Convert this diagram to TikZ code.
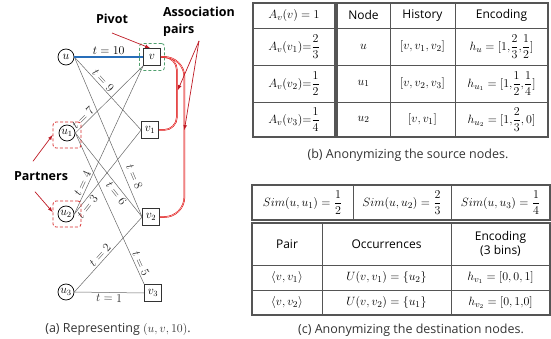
\documentclass[tikz,border=0pt,12pt]{standalone}
\usepackage{amsmath}
\usepackage{fontspec}
\setsansfont{Open Sans}
\usetikzlibrary{positioning}
\usetikzlibrary{calc}
\usetikzlibrary{arrows.meta}

\definecolor{pivotgreen}{RGB}{80,160,110}
\definecolor{partnerred}{RGB}{215,45,45}
\definecolor{arrowred}{RGB}{190,25,35}
\definecolor{edgeblue}{RGB}{40,110,185}
\definecolor{tablegray}{RGB}{85,85,85}

\begin{document}
\begin{tikzpicture}[x=1pt, y=-1pt, text centered,
        src/.style={draw, circle, minimum size=16pt, inner sep=0pt, line width=0.7pt},
        dst/.style={draw=black!80, minimum size=17pt, inner sep=0pt, line width=0.8pt},
        tedge/.style={black!60, line width=0.5pt},
        tlab/.style={sloped, inner sep=1.5pt, text=black!85},
        callout/.style={font=\sffamily\bfseries\fontsize{12.5}{17}\selectfont},
        redarrow/.style={->, -latex, arrowred, line width=0.7pt},
        assoc/.style={draw=red!85!black, double=red!20, double distance=0.5pt, line width=0.5pt},
        pivotbox/.style={draw=pivotgreen, dash pattern=on 3pt off 2pt, rounded corners=3pt, line width=0.8pt},
        partnerbox/.style={draw=partnerred, dash pattern=on 3pt off 2pt, rounded corners=3pt, line width=0.8pt},
        tabframe/.style={draw=tablegray, line width=1.2pt},
        tabrule/.style={draw=tablegray, line width=0.6pt},
        cell/.style={font=\fontsize{13}{15}\selectfont},
        simcell/.style={font=\fontsize{12.5}{15}\selectfont},
        head/.style={font=\sffamily\fontsize{12}{14}\selectfont},
        captext/.style={font=\sffamily\fontsize{12.5}{14}\selectfont, text=black!80}]
        \useasboundingbox (0,0) rectangle (551,339);

        % (a) temporal graph
        \node[src] (u) at (66,57) {$u$};
        \node[dst] (v) at (152,57) {$v$};
        \node[src] (u1) at (67,133) {$u_1$};
        \node[dst] (v1) at (150,130) {$v_1$};
        \node[src] (u2) at (66,214) {$u_2$};
        \node[dst] (v2) at (151,217) {$v_2$};
        \node[src] (u3) at (66,292) {$u_3$};
        \node[dst] (v3) at (153,293) {$v_3$};

        \draw[tedge] (u.east) -- node[tlab, above, pos=0.37] {$t=9$} (v1.west);
        \draw[tedge] (u.east) -- node[tlab, above=3pt, pos=0.77] {$t=8$} (v2.west);
        \draw[tedge] (u1.east) -- node[tlab, above, pos=0.17] {$t=7$} (v.south west);
        \draw[tedge] (u1.east) -- node[tlab, below, pos=0.68] {$t=6$} (v2.west);
        \draw[tedge] (u1.east) -- node[tlab, above, pos=0.88] {$t=5$} (v3.north west);
        \draw[tedge] (u2.east) -- node[tlab, above, pos=0.19] {$t=4$} (v.south west);
        \draw[tedge] (u2.east) -- node[tlab, below, pos=0.13] {$t=3$} (v1.west);
        \draw[tedge] (u3.east) -- node[tlab, above, pos=0.44] {$t=2$} (v2.west);
        \draw[tedge] (u3.east) -- node[tlab, below] {$t=1$} (v3.west);
        \draw[edgeblue, line width=2pt] (u.east) -- node[tlab, above, text=black] {$t=10$} (v.west);

        \node[pivotbox, minimum width=25pt, minimum height=27pt] (vbox) at (v) {};
        \node[partnerbox, minimum width=28pt, minimum height=26pt] (u1box) at ([yshift=-2pt]u1) {};
        \node[partnerbox, minimum width=28pt, minimum height=26pt] (u2box) at ([xshift=1pt]u2) {};

        % association pairs
        \draw[assoc, rounded corners=13pt] (v.east) -- ++(16pt,0) |- (v1.east);
        \draw[assoc, rounded corners=20pt] (v.east) -- ++(23.5pt,0) |- (v2.east);

        \node[callout] (pivot) at (112,19) {Pivot};
        \node[callout, align=left] (assocl) at (199,22) {Association\\pairs};
        \node[callout] (partners) at (41,176) {Partners};

        \coordinate (tip1) at ([xshift=17pt, yshift=-33pt]v.east);
        \coordinate (tip2) at ([xshift=23.5pt]v.east |- v1.east);
        \draw[redarrow] ([yshift=-5pt]pivot.south) -- ([xshift=-2pt]v.north);
        \draw[redarrow] (assocl.south) -- (tip1);
        \draw[redarrow] (assocl.south) -- (tip2);
        \draw[redarrow] ([xshift=-8pt, yshift=6pt]partners.north) -- (u1box.west);
        \draw[redarrow] ([xshift=-6pt, yshift=-7pt]partners.south) -- ([yshift=2pt]u2box.west);

        \node[captext] (capa) at (118,329) {(a) Representing $(u,v,10)$.};

        % (b) source nodes
        \draw[tabframe] (253,3) rectangle (335,137);
        \draw[tabrule] (253,28) -- (335,28) (253,65) -- (335,65) (253,102) -- (335,102);
        \node[cell] (av0) at (294,15.5) {$A_v(v)=1$};
        \node[cell] (av1) at (294,46.5) {$A_v(v_1){=}\dfrac{2}{3}$};
        \node[cell] (av2) at (294,83.5) {$A_v(v_2){=}\dfrac{1}{2}$};
        \node[cell] (av3) at (294,119.5) {$A_v(v_3){=}\dfrac{1}{4}$};

        \draw[tabframe] (337,3) rectangle (548,137);
        \draw[tabrule] (390,3) -- (390,137) (455,3) -- (455,137);
        \draw[tabrule] (337,28) -- (548,28) (337,65) -- (548,65) (337,102) -- (548,102);
        \node[head] (hnode) at (363.5,15.5) {Node};
        \node[head] (hhist) at (422.5,15.5) {History};
        \node[head] (henc) at (501.5,15.5) {Encoding};
        \node[cell] (nu) at (363.5,46.5) {$u$};
        \node[cell] (histu) at (422.5,46.5) {$[v, v_1, v_2]$};
        \node[cell] (encu) at (501.5,46.5) {$h_u = [1{,}\dfrac{2}{3}{,}\dfrac{1}{2}]$};
        \node[cell] (nu1) at (363.5,83.5) {$u_1$};
        \node[cell] (histu1) at (422.5,83.5) {$[v, v_2, v_3]$};
        \node[cell] (encu1) at (501.5,83.5) {$h_{u_1} = [1{,}\dfrac{1}{2}{,}\dfrac{1}{4}]$};
        \node[cell] (nu2) at (363.5,119.5) {$u_2$};
        \node[cell] (histu2) at (422.5,119.5) {$[v, v_1]$};
        \node[cell] (encu2) at (501.5,119.5) {$h_{u_2} = [1{,}\dfrac{2}{3}, 0]$};

        \node[captext] (capb) at (408,155) {(b) Anonymizing the source nodes.};

        % (c) destination nodes
        \draw[tabframe] (252,185) rectangle (550,220);
        \draw[tabrule] (353,185) -- (353,220) (451,185) -- (451,220);
        \node[simcell] (sim1) at (302.5,202.5) {$Sim(u,u_1) = \dfrac{1}{2}$};
        \node[simcell] (sim2) at (402,202.5) {$Sim(u,u_2) = \dfrac{2}{3}$};
        \node[simcell] (sim3) at (500.5,202.5) {$Sim(u,u_3) = \dfrac{1}{4}$};

        \draw[tabframe] (252,223) rectangle (550,315);
        \draw[tabrule] (322,223) -- (322,315) (451,223) -- (451,315);
        \draw[tabrule] (252,265) -- (550,265) (252,290) -- (550,290);
        \node[head] (hpair) at (287,244) {Pair};
        \node[head] (hocc) at (386.5,244) {Occurrences};
        \node[head, align=center] (hbins) at (500.5,244) {Encoding\\(3 bins)};
        \node[cell] (pair1) at (287,277.5) {$\langle v, v_1\rangle$};
        \node[cell] (occ1) at (386.5,277.5) {$U(v,v_1) = \{u_2\}$};
        \node[cell] (bins1) at (500.5,277.5) {$h_{v_1} = [0, 0, 1]$};
        \node[cell] (pair2) at (287,302.5) {$\langle v, v_2\rangle$};
        \node[cell] (occ2) at (386.5,302.5) {$U(v,v_2) = \{u_1\}$};
        \node[cell] (bins2) at (500.5,302.5) {$h_{v_2} = [0, 1{,}0]$};

        \node[captext] (capc) at (411,330) {(c) Anonymizing the destination nodes.};
\end{tikzpicture}
\end{document}
